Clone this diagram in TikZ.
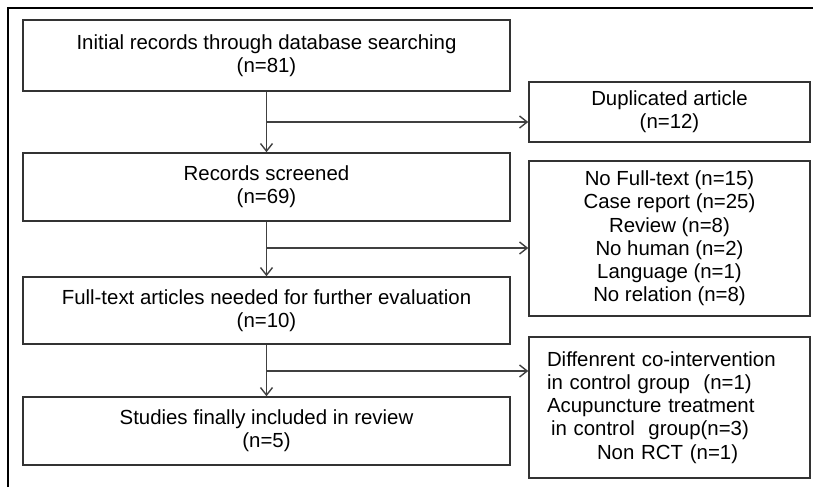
\documentclass[tikz,border=0pt]{standalone}
\usepackage{fontspec}
\setmainfont{Liberation Sans}
\usetikzlibrary{positioning,arrows.meta}

\begin{document}
\begin{tikzpicture}[x=0.5pt,y=-0.5pt,->,>={Straight Barb[length=3.8pt,width=6pt]},font=\fontsize{10.2}{11.6}\selectfont]

    \tikzstyle{stage}=[draw=black!80,line width=0.75pt,minimum width=243.5pt,align=center,inner sep=0pt]
    \tikzstyle{excl}=[draw=black!80,line width=0.75pt,minimum width=140.5pt,align=center,inner sep=0pt]
    \tikzstyle{flow}=[draw=black!75,line width=0.7pt]

    \useasboundingbox (0,0) rectangle (813,487);
    \draw[-,line width=1.4pt] (8,487) -- (8,8) -- (813,8);

    % main column
    \node[stage,minimum height=35.5pt] (init)   at (266.5,55.5) {Initial records through database searching\\(n=81)};
    \node[stage,minimum height=34pt]   (screen) at (266.5,187)  {Records screened\\(n=69)};
    \node[stage,minimum height=33.5pt] (full)   at (266.5,310.5) {Full-text articles needed for further evaluation\\(n=10)};
    \node[stage,minimum height=34pt]   (incl)   at (266.5,431)  {Studies finally included in review\\(n=5)};

    % excluded records
    \node[excl,minimum height=30pt]   (dup) at (669.5,112)   {Duplicated article\\(n=12)};
    \node[excl,minimum height=77.5pt] (rm1) at (669.5,238.5) {No Full-text (n=15)\\Case report (n=25)\\Review (n=8)\\No human (n=2)\\Language (n=1)\\No relation (n=8)};
    \node[excl,minimum height=70.5pt,text width=122.5pt,align=left,inner xsep=9pt] (rm2) at (669.5,407.5)
        {Diffenrent co-intervention\\in control group\ \ (n=1)\\Acupuncture treatment\\\hspace*{2pt}in control\ \ group(n=3)\\\hspace*{25pt}Non RCT (n=1)};

    \coordinate (b1) at (266.5,122);
    \coordinate (b2) at (266.5,248);
    \coordinate (b3) at (266.5,371);

    \draw[flow] (init)   -- (screen);
    \draw[flow] (screen) -- (full);
    \draw[flow] (full)   -- (incl);

    \draw[flow] (b1) -- (b1 -| dup.west);
    \draw[flow] (b2) -- (b2 -| rm1.west);
    \draw[flow] (b3) -- (b3 -| rm2.west);

\end{tikzpicture}
\end{document}
